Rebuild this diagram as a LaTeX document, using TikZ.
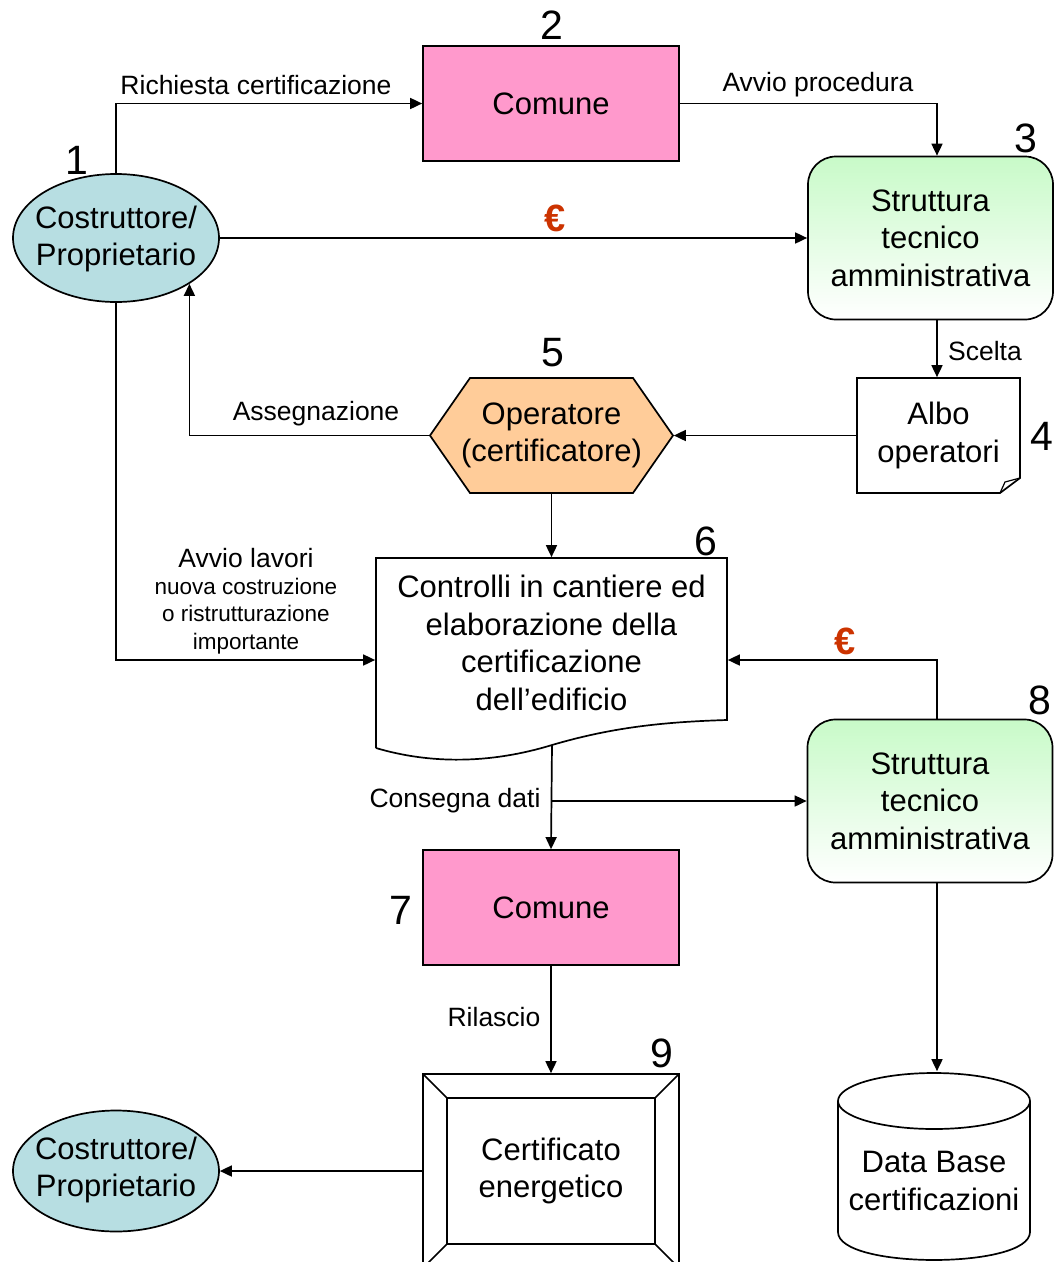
\documentclass[tikz,border=0pt]{standalone}
\usepackage{fontspec}
\setmainfont{Liberation Sans}
\usetikzlibrary{arrows.meta,shapes.geometric,calc}
\definecolor{ellcol}{RGB}{183,222,226}
\definecolor{pinkcol}{RGB}{255,153,204}
\definecolor{orcol}{RGB}{255,204,153}
\definecolor{grcol}{RGB}{200,250,200}
\definecolor{eurocol}{RGB}{204,51,0}
\begin{document}
\begin{tikzpicture}[x=1pt,y=-1pt, line width=1.7pt,
  arr/.style={-{Triangle[length=12pt,width=11pt]}},
  big/.style={font=\fontsize{31}{37.5}\selectfont, align=center},
  lbl/.style={font=\fontsize{26.5}{30}\selectfont},
  small/.style={font=\fontsize{22.5}{27.5}\selectfont, align=center},
  num/.style={font=\fontsize{41}{41}\selectfont},
  euro/.style={font=\fontsize{38}{38}\selectfont\bfseries, text=eurocol},
  boxc/.style={rectangle, draw, fill=pinkcol, minimum width=256pt, minimum height=115pt, big},
  struct/.style={rectangle, draw, rounded corners=28pt, top color=grcol, bottom color=white, minimum width=245pt, minimum height=163pt, big},
  owner/.style={ellipse, draw, fill=ellcol, inner sep=0pt},
  ghost/.style={rectangle, inner sep=0pt, big}
]
\useasboundingbox (0,0) rectangle (1054,1262);

% ---------- nodes ----------
\node[owner, minimum width=206pt, minimum height=128pt] (own) at (116,238) {};
\node[big] (owntxt) at (116,239) {Costruttore/\\Proprietario};
\node[boxc] (com2) at (551,103.5) {Comune};
\node[struct] (st3) at (930.5,238) {Struttura\\tecnico\\amministrativa};

% Albo operatori (folded corner)
\draw[fill=white] (857,378) -- (1020,378) -- (1020,478) -- (1000,493) -- (857,493) -- cycle;
\draw[line width=1.2pt] (1000,493) -- (1005,482) -- (1020,478);
\node[ghost, minimum width=163pt, minimum height=115pt] (albo) at (938.5,435.5) {Albo\\operatori};

% Operatore hexagon
\draw[fill=orcol] (430,435.5) -- (470,378) -- (633,378) -- (673,435.5) -- (633,493) -- (470,493) -- cycle;
\node[ghost, minimum width=243pt, minimum height=115pt] (op) at (551.5,435.5) {Operatore\\(certificatore)};

% Document shape
\draw[fill=white] (376,748) -- (376,558) -- (727,558) -- (727,720)
   .. controls (660,722) and (610,728) .. (552,745)
   .. controls (490,764) and (430,764) .. (376,748);
\coordinate (docbot) at (552,745);
\node[ghost, minimum width=351pt, minimum height=204pt] (doc) at (551.5,660) {};
\node[big] (doctxt) at (551.5,643) {Controlli in cantiere ed\\elaborazione della\\certificazione\\dell’edificio};

\node[struct] (st8) at (930,801) {Struttura\\tecnico\\amministrativa};
\node[boxc] (com7) at (551,907.5) {Comune};

% Certificato frame
\draw[fill=white] (423,1074) rectangle (679,1268);
\draw (447,1098) rectangle (655,1244);
\draw (423,1074) -- (447,1098) (679,1074) -- (655,1098)
      (423,1268) -- (447,1244) (679,1268) -- (655,1244);
\node[ghost, minimum width=256pt, minimum height=194pt] (cert) at (551,1171) {Certificato\\energetico};

% Data base cylinder
\draw[fill=white] (838,1101) -- (838,1232) .. controls (838,1269.3) and (1030,1269.3) .. (1030,1232) -- (1030,1101);
\draw[fill=white] (934,1101) ellipse [x radius=96pt, y radius=28pt];
\node[ghost, minimum width=192pt, minimum height=190pt] (db) at (934,1167) {};
\node[big] (dbtxt) at (934,1181) {Data Base\\certificazioni};

\node[owner, minimum width=206pt, minimum height=121pt] (own2) at (116,1171) {};
\node[big] (own2txt) at (116,1170) {Costruttore/\\Proprietario};

% ---------- connectors ----------
\draw[arr] (own.north) |- (com2.west);
\draw[arr] (com2.east) -| ([xshift=6.5pt]st3.north);
\draw[arr] (own.east) -- (st3.west);
\draw[arr] ([xshift=6.5pt]st3.south) -- ([xshift=6.5pt]st3.south |- albo.north);
\draw[arr] (albo.west) -- (op.east);
\draw[arr] (op.west) -| (own.-32);
\draw[arr] (op.south) -- (op.south |- doc.north);
\draw[arr] (own.south) |- (doc.west);
\draw[arr] ([xshift=7pt]st8.north) |- (doc.east);
\draw[arr] (docbot) -- (com7.north);
\draw[arr] (docbot |- st8.west) -- (st8.west);
\draw[arr] ([xshift=7pt]st8.south) -- ([xshift=7pt]st8.south |- db.north);
\draw[arr] (com7.south) -- (cert.north);
\draw[arr] (cert.west) -- (own2.east);

% ---------- labels ----------
\node[lbl] (l1) at (256,85) {Richiesta certificazione};
\node[lbl] (l2) at (818,85) {Avvio procedura};
\node[lbl] (l3) at (985,351) {Scelta};
\node[lbl] (l4) at (316,414) {Assegnazione};
\node[lbl] (l5) at (246,558) {Avvio lavori};
\node[small] (l6) at (246,616) {nuova costruzione\\o ristrutturazione\\importante};
\node[lbl] (l7) at (455,801) {Consegna dati};
\node[lbl] (l8) at (494,1017) {Rilascio};
\node[euro] (e1) at (555,218) {€};
\node[euro] (e2) at (845,641) {€};

\node[num] (n1) at (77,160) {1};
\node[num] (n2) at (552,25) {2};
\node[num] (n3) at (1026,138) {3};
\node[num] (n4) at (1042,436) {4};
\node[num] (n5) at (553,353) {5};
\node[num] (n6) at (706,541) {6};
\node[num] (n7) at (401,910) {7};
\node[num] (n8) at (1040,700) {8};
\node[num] (n9) at (662,1053) {9};
\end{tikzpicture}
\end{document}
